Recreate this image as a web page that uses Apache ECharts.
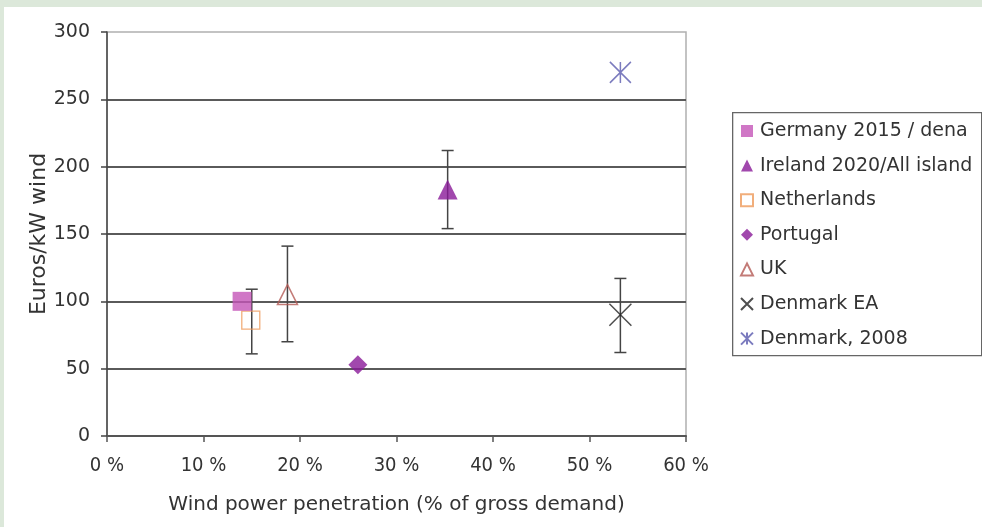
<!DOCTYPE html>
<html>
<head>
<meta charset="utf-8">
<script src="https://cdn.jsdelivr.net/npm/echarts@6/dist/echarts.min.js"></script>
<style>
html,body{margin:0;padding:0;background:#dce8da;width:982px;height:527px;overflow:hidden;}
#chart{position:absolute;left:4px;top:7px;width:978px;height:520px;background:#ffffff;}
</style>
</head>
<body>
<div id="chart"></div>
<script>
// ---- data ----
var seriesNames = ['Germany 2015 / dena', 'Ireland 2020/All island', 'Netherlands', 'Portugal', 'UK', 'Denmark EA', 'Denmark, 2008'];
var penetration = [14.0, 35.3, 14.9, 26.0, 18.7, 53.2, 53.2];   // % of gross demand
var costEuroPerKW = [100, 183, 86, 53, 105, 90, 270];
var errX = [35.3, 15.0, 18.7, 53.2];
var errLow = [154, 61, 70, 62];
var errHigh = [212, 109, 141, 117];
var xTicks = [0, 10, 20, 30, 40, 50, 60];
var yTicks = [0, 50, 100, 150, 200, 250, 300];

// ---- styles ----
var FONT = 'Liberation Sans, Arial, sans-serif';
var WIDE = 'DejaVu Sans, Liberation Sans, sans-serif';
var NARROW = 'Liberation Sans Narrow, DejaVu Sans Condensed, Liberation Sans, sans-serif';
var symbols = ['rect', 'triangle', 'rect', 'diamond', 'triangle',
  'path://M0,0L10,10M10,0L0,10',
  'path://M0,0L10,10M10,0L0,10M5,0L5,10'];
var sizes = [19, 20, 18, 19, 20, 22, 21];
var styles = [
  {color: '#c455b8'},
  {color: '#8a1a98'},
  {color: 'rgba(255,255,255,0)', borderColor: '#ee9a5a', borderWidth: 1.3},
  {color: '#8a1a98'},
  {color: 'rgba(255,255,255,0)', borderColor: '#b45a55', borderWidth: 1.5},
  {color: 'rgba(255,255,255,0)', borderColor: '#222222', borderWidth: 1.5},
  {color: 'rgba(255,255,255,0)', borderColor: '#5a5aae', borderWidth: 1.5}
];

var series = [];
series.push({
  type: 'custom',
  name: 'err',
  z: 1,
  silent: true,
  data: errX.map(function (x, i) { return [x, errLow[i], errHigh[i]]; }),
  renderItem: function (params, api) {
    var lo = api.coord([api.value(0), api.value(1)]);
    var hi = api.coord([api.value(0), api.value(2)]);
    var w = 6;
    var st = {stroke: '#444', lineWidth: 1.5};
    return {
      type: 'group',
      children: [
        {type: 'line', shape: {x1: lo[0], y1: lo[1], x2: hi[0], y2: hi[1]}, style: st},
        {type: 'line', shape: {x1: lo[0] - w, y1: lo[1], x2: lo[0] + w, y2: lo[1]}, style: st},
        {type: 'line', shape: {x1: hi[0] - w, y1: hi[1], x2: hi[0] + w, y2: hi[1]}, style: st}
      ]
    };
  }
});
var order = [2, 4, 0, 3, 1, 5, 6];
seriesNames.forEach(function (n, i) {
  series.push({
    type: 'scatter',
    name: n,
    z: 3 + order.indexOf(i),
    symbol: symbols[i],
    symbolSize: sizes[i],
    itemStyle: styles[i],
    emphasis: {disabled: true},
    data: [[penetration[i], costEuroPerKW[i]]]
  });
});

var chart = echarts.init(document.getElementById('chart'));
chart.setOption({
  animation: false,
  backgroundColor: '#ffffff',
  textStyle: {fontFamily: FONT},
  grid: {left: 103, right: 296, top: 25, bottom: 91, show: true, borderColor: '#b0b0b0', borderWidth: 1.5, backgroundColor: 'transparent'},
  graphic: [{
    type: 'rect', left: 728, top: 105, z: 0,
    shape: {width: 249, height: 243},
    style: {fill: '#fff', stroke: '#666', lineWidth: 1.3}
  }],
  legend: {
    data: seriesNames,
    orient: 'vertical',
    left: 736, top: 114,
    padding: 0,
    itemWidth: 12, itemHeight: 12,
    itemGap: 14.6,
    z: 5,
    textStyle: {fontFamily: WIDE, fontSize: 19, color: '#333', lineHeight: 20, padding: [0, 0, 0, 2]}
  },
  xAxis: {
    type: 'value', min: 0, max: 60, interval: 10,
    name: 'Wind power penetration (% of gross demand)',
    nameLocation: 'middle', nameGap: 59, nameMoveOverlap: false,
    nameTextStyle: {fontFamily: WIDE, fontSize: 20, color: '#333'},
    axisLine: {show: true, lineStyle: {color: '#555', width: 2}},
    axisTick: {show: true, inside: false, length: 6, lineStyle: {color: '#555', width: 1.5}},
    axisLabel: {margin: 20, fontFamily: NARROW, fontSize: 20, color: '#333',
      formatter: function (v) { return xTicks.indexOf(v) >= 0 ? v + ' %' : ''; }},
    splitLine: {show: false}
  },
  yAxis: {
    type: 'value', min: 0, max: 300, interval: 50,
    name: 'Euros/kW wind',
    nameLocation: 'middle', nameGap: 57, nameRotate: 90, nameMoveOverlap: false,
    nameTextStyle: {fontFamily: WIDE, fontSize: 22, color: '#333'},
    axisLine: {show: true, lineStyle: {color: '#444', width: 1.5}},
    axisTick: {show: true, inside: false, length: 6, lineStyle: {color: '#444', width: 1.5}},
    axisLabel: {margin: 17, fontFamily: WIDE, fontSize: 19, color: '#333',
      formatter: function (v) { return yTicks.indexOf(v) >= 0 ? String(v) : ''; }},
    splitLine: {show: true, showMaxLine: false, lineStyle: {color: '#5a5a5a', width: 2}}
  },
  series: series
});
</script>
</body>
</html>
